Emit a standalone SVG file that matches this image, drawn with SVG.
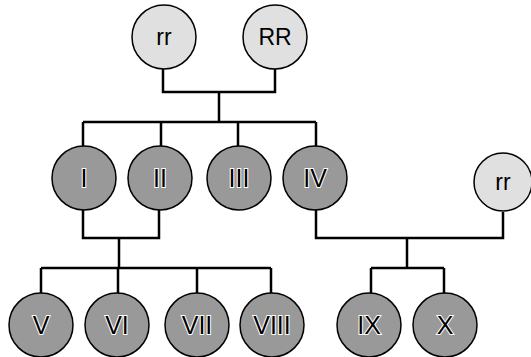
<svg xmlns="http://www.w3.org/2000/svg" width="531" height="357" viewBox="0 0 531 357">
<style>
.light{fill:#e0e0e0;stroke:#000;stroke-width:1.5}
.dark{fill:#999999;stroke:#000;stroke-width:1.5}
.lt{font-family:"Liberation Sans",Arial,sans-serif;font-size:23px;fill:#000;text-anchor:middle}
.dt{font-family:"Liberation Sans",Arial,sans-serif;font-size:25px;fill:#000;stroke:#fff;stroke-width:2;paint-order:stroke;text-anchor:middle}
.c{fill:none;stroke:#000;stroke-width:2.5}
</style>
<rect width="531" height="357" fill="#fff"/>
<g id="connectors">
<path class="c" d="M163 69V92H275V69M219 92V122M83 122H316M83 122V146M161 122V146M238 122V146M316 122V146"/>
<path class="c" d="M83 209V238H159V209M119 238V268M41 268H271M41 268V293M118 268V293M197 268V293M271 268V293"/>
<path class="c" d="M316 209V238H503V212M407 238V268M371 268H444M371 268V293M444 268V293"/>
</g>
<g id="n-rr1"><circle class="light" cx="164" cy="37" r="32"/><text class="lt" x="164" y="45">rr</text></g>
<g id="n-RR"><circle class="light" cx="275" cy="37" r="32"/><text class="lt" x="275" y="45">RR</text></g>
<g id="n-I"><circle class="dark" cx="84" cy="178" r="32"/><text class="dt" x="84" y="187">I</text></g>
<g id="n-II"><circle class="dark" cx="160" cy="178" r="32"/><text class="dt" x="160" y="187">II</text></g>
<g id="n-III"><circle class="dark" cx="239" cy="178" r="32"/><text class="dt" x="239" y="187">III</text></g>
<g id="n-IV"><circle class="dark" cx="315" cy="178" r="32"/><text class="dt" x="315" y="187">IV</text></g>
<g id="n-rr2"><circle class="light" cx="503" cy="182" r="29"/><text class="lt" x="503" y="190">rr</text></g>
<g id="n-V"><circle class="dark" cx="41" cy="325" r="32"/><text class="dt" x="41" y="334">V</text></g>
<g id="n-VI"><circle class="dark" cx="117" cy="325" r="32"/><text class="dt" x="117" y="334">VI</text></g>
<g id="n-VII"><circle class="dark" cx="197" cy="325" r="32"/><text class="dt" x="197" y="334">VII</text></g>
<g id="n-VIII"><circle class="dark" cx="272" cy="325" r="32"/><text class="dt" x="272" y="334">VIII</text></g>
<g id="n-IX"><circle class="dark" cx="369" cy="325" r="32"/><text class="dt" x="369" y="334">IX</text></g>
<g id="n-X"><circle class="dark" cx="445" cy="325" r="32"/><text class="dt" x="445" y="334">X</text></g>
</svg>
